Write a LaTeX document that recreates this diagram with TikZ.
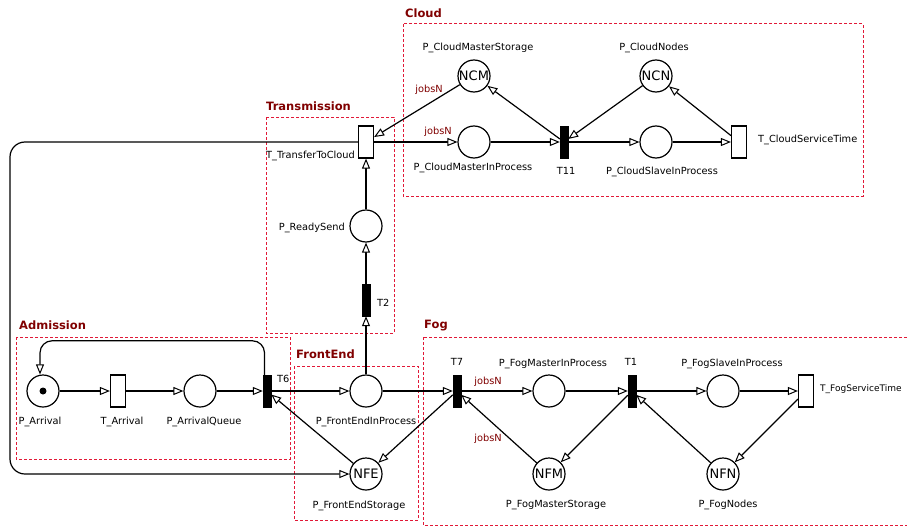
\documentclass[tikz,border=0pt]{standalone}
\usepackage{fontspec}
\setmainfont{DejaVu Sans}
\usetikzlibrary{arrows.meta}
\usetikzlibrary{calc}
\definecolor{zonered}{RGB}{225,25,55}
\definecolor{titlered}{RGB}{128,0,0}
\tikzset{
  place/.style={circle, draw=black, line width=1.2pt, fill=white, minimum size=32pt, inner sep=0pt, font=\fontsize{13}{15}\selectfont},
  ttrans/.style={rectangle, draw=black, line width=1.2pt, fill=white, minimum width=15pt, minimum height=32pt, inner sep=0pt},
  itrans/.style={rectangle, draw=black, fill=black, minimum width=8pt, minimum height=32pt, inner sep=0pt},
  token/.style={circle, fill=black, minimum size=7pt, inner sep=0pt},
  flow/.style={black, line width=1.2pt, -{Triangle[length=10pt, width=8pt, fill=white, line width=1pt]}},
  lbl/.style={font=\fontsize{9.8}{11}\selectfont, inner sep=0pt},
  weight/.style={lbl, text=titlered},
  zone/.style={draw=zonered, line width=1pt, dash pattern=on 3pt off 2pt},
  zonetitle/.style={text=titlered, font=\bfseries\fontsize{11.5}{13}\selectfont, inner sep=0pt, anchor=west},
}
\begin{document}
\begin{tikzpicture}[x=1pt, y=-1pt]

\useasboundingbox (0,0) rectangle (907,527);

% zones
\draw[zone] (403,24) rectangle (863,196);
\draw[zone] (266,117) rectangle (394,333);
\draw[zone] (16,337) rectangle (290,459);
\draw[zone] (294,366) rectangle (418,520);
\draw[zone] (423,337) rectangle (912,525);

\node[zonetitle] (ttlcloud) at (405,13) {Cloud};
\node[zonetitle] (ttltrans) at (266,106) {Transmission};
\node[zonetitle] (ttladm) at (19,325) {Admission};
\node[zonetitle] (ttlfront) at (296,354) {FrontEnd};
\node[zonetitle] (ttlfog) at (424,326) {Fog};

% cloud
\node[place] (NCM) at (474,76) {NCM};
\node[place] (CloudMasterIP) at (474,142) {};
\node[place] (NCN) at (656,76) {NCN};
\node[place] (CloudSlaveIP) at (656,142) {};
\node[itrans] (T11) at (564,142) {};
\node[ttrans] (CloudServ) at (739,142) {};

% transmission
\node[ttrans] (TransferCloud) at (366,142) {};
\node[place] (ReadySend) at (366,226) {};
\node[itrans] (T2) at (366,300) {};

% admission
\node[place] (Arrival) at (43,391) {};
\node[token] (tok) at (Arrival) {};
\node[ttrans] (TArrival) at (118,391) {};
\node[place] (ArrivalQ) at (200,391) {};
\node[itrans] (T6) at (267,391) {};

% frontend
\node[place] (FrontEndIP) at (366,391) {};
\node[place] (NFE) at (366,474) {NFE};

% fog
\node[itrans] (T7) at (457,391) {};
\node[place] (FogMasterIP) at (549,391) {};
\node[place] (NFM) at (549,474) {NFM};
\node[itrans] (T1) at (632,391) {};
\node[place] (FogSlaveIP) at (723,391) {};
\node[ttrans] (FogServ) at (806,391) {};
\node[place] (NFN) at (723,474) {NFN};

% labels
\node[lbl] (lCMS) at (478,48) {P\_CloudMasterStorage};
\node[lbl] (lCMIP) at (473,168) {P\_CloudMasterInProcess};
\node[lbl, anchor=east] (lTTC) at (355,156) {T\_TransferToCloud};
\node[lbl] (lT11) at (566,171) {T11};
\node[lbl] (lCN) at (654,48) {P\_CloudNodes};
\node[lbl] (lCSIP) at (662,172) {P\_CloudSlaveInProcess};
\node[lbl, anchor=west] (lTCST) at (758,140) {T\_CloudServiceTime};
\node[lbl, anchor=east] (lRS) at (345,228) {P\_ReadySend};
\node[lbl, anchor=west] (lT2) at (377,303) {T2};
\node[lbl] (lA) at (40,422) {P\_Arrival};
\node[lbl] (lTA) at (122,422) {T\_Arrival};
\node[lbl] (lAQ) at (204,422) {P\_ArrivalQueue};
\node[lbl, anchor=west] (lT6) at (277,379) {T6};
\node[lbl] (lFEIP) at (366,422) {P\_FrontEndInProcess};
\node[lbl] (lFES) at (359,506) {P\_FrontEndStorage};
\node[lbl] (lT7) at (457,362) {T7};
\node[lbl] (lFMIP) at (553,364) {P\_FogMasterInProcess};
\node[lbl] (lFMS) at (556,505) {P\_FogMasterStorage};
\node[lbl] (lT1) at (631,362) {T1};
\node[lbl] (lFSIP) at (732,364) {P\_FogSlaveInProcess};
\node[lbl, anchor=west, font=\fontsize{9}{11}\selectfont] (lTFST) at (820,389) {T\_FogServiceTime};
\node[lbl] (lFN) at (728,505) {P\_FogNodes};

\node[weight] (wNCM) at (429,90) {jobsN};
\node[weight] (wCMIP) at (438,132) {jobsN};
\node[weight] (wFMIP) at (488,382) {jobsN};
\node[weight] (wNFM) at (488,439) {jobsN};

% admission arcs
\draw[flow] (Arrival) -- (TArrival);
\draw[flow] (TArrival) -- (ArrivalQ);
\draw[flow] (ArrivalQ) -- (T6);
\draw[flow, rounded corners=12pt] ([xshift=-2.5pt]T6.north) -- ++(0,-34) -| ([xshift=-3pt]Arrival.north);
\draw[flow] (T6) -- (FrontEndIP);
\draw[flow] (NFE) -- (T6);

% frontend and transmission arcs
\draw[flow] (FrontEndIP) -- (T7);
\draw[flow] (T7) -- (NFE);
\draw[flow] (FrontEndIP) -- (T2);
\draw[flow] (T2) -- (ReadySend);
\draw[flow] (ReadySend) -- (TransferCloud);
\coordinate (farleft) at (10,300);
\draw[flow, rounded corners=15pt] (TransferCloud.west) -| (farleft) |- (NFE.west);

% fog arcs
\draw[flow] (T7) -- (FogMasterIP);
\draw[flow] (NFM) -- (T7);
\draw[flow] (FogMasterIP) -- (T1);
\draw[flow] (T1) -- (NFM);
\draw[flow] (T1) -- (FogSlaveIP);
\draw[flow] (FogSlaveIP) -- (FogServ);
\draw[flow] (FogServ) -- (NFN);
\draw[flow] (NFN) -- (T1);

% cloud arcs
\draw[flow] (NCM) -- (TransferCloud);
\draw[flow] (TransferCloud) -- (CloudMasterIP);
\draw[flow] (CloudMasterIP) -- (T11);
\draw[flow] (T11) -- (NCM);
\draw[flow] (NCN) -- (T11);
\draw[flow] (T11) -- (CloudSlaveIP);
\draw[flow] (CloudSlaveIP) -- (CloudServ);
\draw[flow] (CloudServ) -- (NCN);

\end{tikzpicture}
\end{document}
